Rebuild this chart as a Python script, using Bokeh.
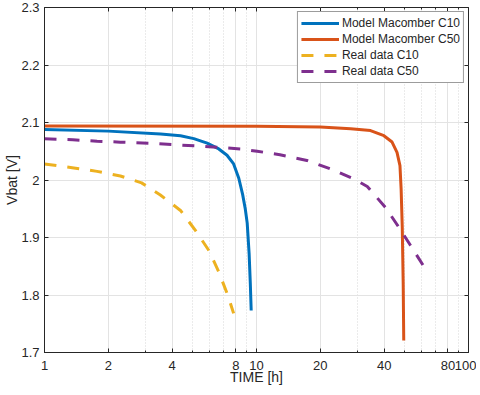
from bokeh.plotting import figure
from bokeh.models import (FixedTicker, Range1d, LogAxis, LinearAxis,
                          NumeralTickFormatter, CustomJSTickFormatter)
from bokeh.embed import file_html
from bokeh.resources import INLINE

# ---- data ----
model_c10_t = [1.0, 2.0, 3.53, 4.38, 5.06, 5.85, 6.64, 7.26, 7.8, 8.25, 8.6, 8.85, 9.04, 9.23, 9.35, 9.44]
model_c10_v = [2.088, 2.085, 2.080, 2.077, 2.072, 2.064, 2.054, 2.043, 2.028, 2.003, 1.975, 1.950,
               1.925, 1.872, 1.820, 1.773]

model_c50_t = [1.0, 10.0, 20.0, 27.8, 34.5, 39.9, 43.6, 46.0, 47.5, 48.1, 48.7, 49.2, 49.5]
model_c50_v = [2.094, 2.0935, 2.092, 2.089, 2.086, 2.077, 2.066, 2.048, 2.025, 1.985, 1.918, 1.82, 1.721]

real_c10_t = [1.0, 1.375, 1.77, 2.28, 2.87, 3.52, 4.38, 5.16, 5.97, 6.64, 7.33, 7.8]
real_c10_v = [2.028, 2.021, 2.015, 2.007, 1.995, 1.974, 1.947, 1.912, 1.877, 1.840, 1.799, 1.768]

real_c50_t = [1.0, 1.36, 1.77, 2.28, 3.16, 6.5, 8.42, 10.07, 12.9, 17.3, 22.3, 28.7, 33.3, 40.5, 46.9, 53.3, 64.5]
real_c50_v = [2.0716, 2.070, 2.0675, 2.0658, 2.064, 2.057, 2.054, 2.050, 2.044, 2.034, 2.0195, 2.002,
              1.9887, 1.9527, 1.918, 1.886, 1.838]

x_ticks = [1, 2, 4, 8, 10, 20, 40, 80, 100]
x_minor = [3, 5, 6, 7, 9, 30, 50, 60, 70, 90]
y_ticks = [1.7, 1.8, 1.9, 2.0, 2.1, 2.2, 2.3]

labels = ["Model Macomber C10", "Model Macomber C50", "Real data C10", "Real data C50"]
colors = ["#0072BD", "#D95319", "#EDB120", "#7E2F8E"]

FONT = "Arial"
TXT = "#262626"

p = figure(width=476, height=391, x_axis_type="log",
           x_range=Range1d(1, 100), y_range=Range1d(1.7, 2.3),
           output_backend="svg", toolbar_location=None,
           min_border_left=44, min_border_right=8, min_border_top=7, min_border_bottom=39)
p.background_fill_color = "white"
p.border_fill_color = "white"
p.outline_line_color = "#262626"
p.outline_line_width = 1

xt = FixedTicker(ticks=x_ticks, minor_ticks=x_minor)
yt = FixedTicker(ticks=y_ticks)

p.xaxis.ticker = xt
p.xaxis.formatter = NumeralTickFormatter(format="0")
p.yaxis.ticker = yt
p.yaxis.formatter = NumeralTickFormatter(format="0.[0]")

for ax in (p.xaxis[0], p.yaxis[0]):
    ax.major_label_text_font = FONT
    ax.major_label_text_font_size = "13px"
    ax.major_label_text_color = TXT
    ax.axis_label_text_font = FONT
    ax.axis_label_text_font_size = "14px"
    ax.axis_label_text_color = TXT
    ax.axis_label_text_font_style = "normal"
    ax.axis_line_color = "#262626"
    ax.major_tick_line_color = "#262626"
    ax.minor_tick_line_color = "#262626"
    ax.major_tick_in = 4
    ax.major_tick_out = 0
    ax.minor_tick_out = 0

p.xaxis.minor_tick_in = 2
p.yaxis.minor_tick_in = 0
p.xaxis.axis_label = "TIME [h]"
p.yaxis.axis_label = "Vbat [V]"
p.xaxis.major_label_standoff = 8
p.xaxis.axis_label_standoff = -4
p.yaxis.major_label_standoff = 5
p.yaxis.axis_label_standoff = -2

# box ticks on top and right (no labels)
blank = CustomJSTickFormatter(code="return ''")
top = LogAxis(ticker=xt, formatter=blank, major_label_standoff=0,
              major_tick_in=4, major_tick_out=0, minor_tick_in=2, minor_tick_out=0,
              axis_line_color=None, major_tick_line_color="#262626",
              minor_tick_line_color="#262626")
right = LinearAxis(ticker=yt, formatter=blank, major_label_standoff=0,
                   major_tick_in=4, major_tick_out=0, minor_tick_in=0, minor_tick_out=0,
                   axis_line_color=None, major_tick_line_color="#262626")
p.add_layout(top, "above")
p.add_layout(right, "right")

p.xgrid.grid_line_color = "#e3e3e3"
p.xgrid.minor_grid_line_color = "#d6d6d6"
p.xgrid.minor_grid_line_dash = "1 2"
p.ygrid.grid_line_color = "#e3e3e3"

p.line(model_c10_t, model_c10_v, color=colors[0], line_width=3, legend_label=labels[0])
p.line(model_c50_t, model_c50_v, color=colors[1], line_width=3, legend_label=labels[1])
p.line(real_c10_t, real_c10_v, color=colors[2], line_width=3, line_dash="12 11",
       line_cap="butt", legend_label=labels[2])
p.line(real_c50_t, real_c50_v, color=colors[3], line_width=3, line_dash="12 11",
       line_cap="butt", legend_label=labels[3])

lg = p.legend[0]
lg.location = "top_right"
lg.margin = 4
lg.padding = 3
lg.spacing = 0
lg.label_height = 16
lg.glyph_height = 16
lg.glyph_width = 38
lg.label_standoff = 3
lg.label_text_font = FONT
lg.label_text_font_size = "12px"
lg.label_text_color = TXT
lg.border_line_color = "#3a3a3a"
lg.border_line_width = 1
lg.background_fill_alpha = 1.0

open("out.html", "w").write(file_html(p, INLINE))
